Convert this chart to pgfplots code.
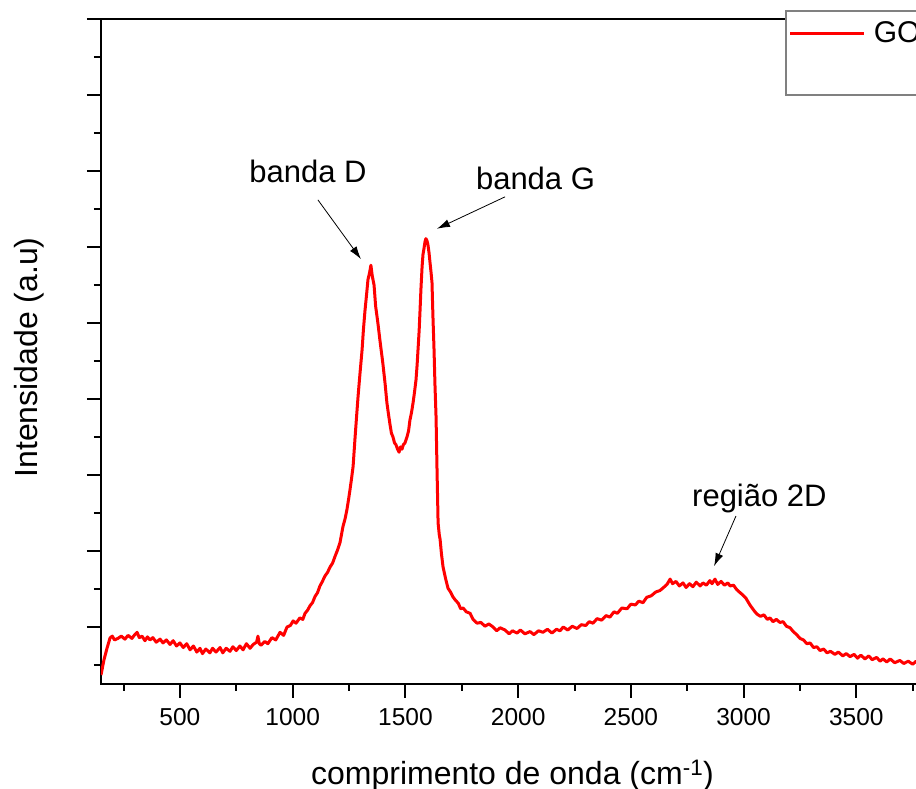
\documentclass[border=0pt]{standalone}
\usepackage{fontspec}
\setmainfont{Liberation Sans}
\usepackage{pgfplots}
\pgfplotsset{compat=1.18}
\usetikzlibrary{arrows.meta}
\definecolor{gored}{RGB}{255,0,0}
\begin{document}
\begin{tikzpicture}
\begin{axis}[
 name=ax, at={(0pt,0pt)}, anchor=south west,
 scale only axis, width=823pt, height=665pt,
 xmin=150, xmax=3800, ymin=-0.75, ymax=8,
 axis line style={line width=2pt},
 tick style={line width=2pt, black},
 major tick length=14pt, minor tick length=7pt,
 tick align=outside,
 xtick pos=bottom, ytick pos=left,
 xtick={500,1000,...,3500},
 minor xtick={250,750,...,3750},
 ytick={0,...,8}, minor ytick={-0.5,0.5,...,7.5},
 yticklabels={},
 /pgf/number format/assume math mode=true,
 /pgf/number format/1000 sep={},
 xticklabel style={font=\fontsize{24.5}{29}\selectfont, anchor=base, yshift=-28pt},
 xlabel={comprimento de onda (cm\textsuperscript{-1})},
 ylabel={Intensidade (a.u)},
 xlabel style={font=\fontsize{32}{38}\selectfont, at={([yshift=-101pt]axis description cs:0.5,0)}, anchor=base},
 ylabel style={font=\fontsize{32}{38}\selectfont, at={([xshift=-63pt]axis description cs:0,0.491)}, anchor=base},
 legend style={at={(axis description cs:0.8311,1.0135)}, anchor=north west, draw=gray, line width=1.5pt, fill=white,
   font=\fontsize{30}{36}\selectfont, inner xsep=3pt, inner ysep=0pt, column sep=8pt,
   nodes={inner sep=0pt, text height=32pt, text depth=52pt}, cells={anchor=base west}},
 legend image code/.code={\draw[#1, line width=3pt] (0pt,9pt) -- (74pt,9pt);},
]
\addplot[color=gored, line width=3pt, line join=round] table {
x y
150 -0.632
163 -0.434
177 -0.276
190 -0.145
200 -0.12
210 -0.17
225 -0.15
240 -0.12
256 -0.16
270 -0.11
287 -0.15
300 -0.10
310 -0.07
320 -0.14
332 -0.12
345 -0.18
356 -0.13
367 -0.17
380 -0.14
395 -0.20
412 -0.16
425 -0.21
440 -0.17
456 -0.23
470 -0.18
485 -0.25
500 -0.21
515 -0.27
530 -0.22
545 -0.30
560 -0.25
575 -0.33
589 -0.28
600 -0.35
615 -0.29
633 -0.34
645 -0.28
660 -0.33
678 -0.27
690 -0.34
705 -0.28
722 -0.32
735 -0.26
750 -0.31
766 -0.25
780 -0.30
795 -0.22
811 -0.28
825 -0.23
840 -0.20
846 -0.12
852 -0.22
860 -0.24
877 -0.19
890 -0.22
908 -0.14
925 -0.17
944 -0.07
960 -0.11
975 0.00
990 0.02
1002 0.08
1015 0.05
1032 0.12
1045 0.10
1055 0.18
1066 0.22
1077 0.28
1088 0.32
1099 0.40
1110 0.45
1121 0.54
1132 0.60
1143 0.67
1155 0.72
1166 0.79
1177 0.84
1188 0.93
1200 1.02
1210 1.11
1223 1.32
1233 1.43
1241 1.55
1248 1.68
1254 1.80
1261 1.95
1268 2.11
1276 2.46
1283 2.75
1290 3.03
1299 3.35
1308 3.65
1314 3.92
1321 4.17
1328 4.38
1334 4.57
1341 4.66
1347 4.76
1353 4.62
1361 4.50
1368 4.22
1378 4.00
1388 3.75
1400 3.47
1410 3.20
1418 2.95
1425 2.80
1432 2.66
1438 2.55
1445 2.50
1452 2.42
1458 2.40
1465 2.34
1472 2.30
1478 2.37
1485 2.34
1491 2.40
1498 2.42
1507 2.50
1514 2.58
1520 2.72
1527 2.82
1534 2.95
1540 3.08
1547 3.25
1552 3.45
1556 3.65
1561 3.90
1565 4.17
1569 4.45
1574 4.74
1578 4.90
1583 4.99
1587 5.07
1591 5.11
1596 5.08
1600 5.03
1605 4.92
1609 4.80
1614 4.66
1618 4.53
1622 4.10
1627 3.65
1631 3.20
1636 2.76
1640 2.11
1645 1.37
1650 1.22
1654 1.15
1660 0.96
1667 0.79
1678 0.64
1689 0.51
1700 0.46
1710 0.40
1720 0.36
1735 0.31
1745 0.24
1756 0.25
1770 0.20
1787 0.18
1800 0.10
1818 0.05
1835 0.06
1853 0.01
1870 0.04
1889 0.00
1905 -0.05
1920 -0.01
1942 -0.04
1960 -0.09
1975 -0.05
1995 -0.08
2010 -0.04
2030 -0.09
2053 -0.06
2070 -0.10
2090 -0.05
2110 -0.07
2130 -0.03
2150 -0.08
2170 -0.03
2186 -0.05
2200 0.00
2220 -0.04
2240 0.01
2261 -0.02
2280 0.03
2300 0.02
2315 0.07
2332 0.05
2350 0.11
2370 0.09
2390 0.15
2407 0.13
2425 0.20
2440 0.18
2460 0.25
2483 0.24
2500 0.30
2520 0.29
2535 0.34
2554 0.32
2570 0.39
2590 0.41
2610 0.46
2629 0.48
2645 0.52
2660 0.56
2674 0.63
2685 0.57
2700 0.60
2715 0.54
2731 0.58
2745 0.52
2760 0.57
2775 0.53
2790 0.59
2807 0.54
2820 0.58
2835 0.55
2850 0.61
2860 0.57
2873 0.63
2885 0.56
2900 0.60
2915 0.55
2930 0.58
2940 0.54
2955 0.55
2970 0.49
2985 0.45
2997 0.42
3010 0.38
3028 0.29
3045 0.22
3059 0.17
3075 0.14
3090 0.16
3105 0.10
3117 0.12
3130 0.07
3145 0.10
3161 0.06
3175 0.07
3190 0.01
3206 -0.01
3220 -0.06
3235 -0.10
3250 -0.15
3265 -0.17
3281 -0.22
3295 -0.21
3310 -0.27
3325 -0.26
3339 -0.31
3355 -0.29
3370 -0.34
3385 -0.32
3405 -0.36
3420 -0.33
3440 -0.38
3455 -0.35
3472 -0.39
3490 -0.36
3505 -0.41
3520 -0.37
3538 -0.42
3555 -0.38
3570 -0.43
3590 -0.40
3605 -0.45
3618 -0.42
3635 -0.46
3650 -0.42
3670 -0.47
3693 -0.44
3710 -0.48
3730 -0.45
3750 -0.49
3765 -0.45
3780 -0.48
3800 -0.46
};
\addlegendentry{GO}
\node[font=\fontsize{31}{37}\selectfont, anchor=base] at (axis cs:1068,5.855) {banda D};
\node[font=\fontsize{31}{37}\selectfont, anchor=base] at (axis cs:2077,5.76) {banda G};
\node[font=\fontsize{31}{37}\selectfont, anchor=base] at (axis cs:3070,1.59) {região 2D};
\draw[line width=0.8pt, -{Latex[length=13pt,width=8pt]}] (axis cs:1112,5.62) -- (axis cs:1303,4.84);
\draw[line width=0.8pt, -{Latex[length=13pt,width=8pt]}] (axis cs:1942,5.66) -- (axis cs:1640,5.24);
\draw[line width=0.8pt, -{Latex[length=13pt,width=8pt]}] (axis cs:2966,1.46) -- (axis cs:2869,0.80);
\end{axis}
\pgfresetboundingbox
\useasboundingbox (-101pt,-105pt) rectangle (815pt,684pt);
\end{tikzpicture}
\end{document}
